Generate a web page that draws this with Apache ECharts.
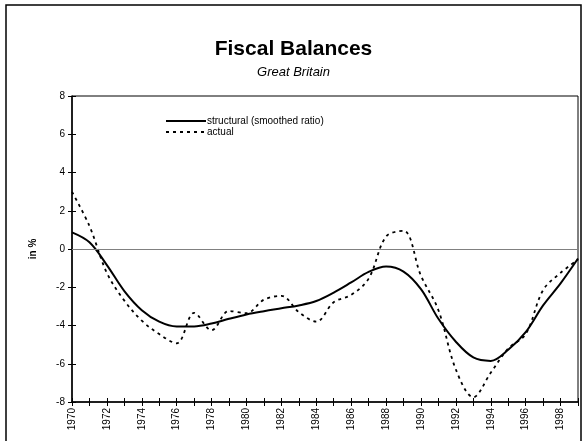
<!DOCTYPE html>
<html><head><meta charset="utf-8">
<script src="https://cdn.jsdelivr.net/npm/echarts@6/dist/echarts.min.js"></script>
<style>html,body{margin:0;padding:0;background:#fff}#c{width:587px;height:441px}</style>
</head><body><div id="c"></div>
<script>
var years = [1970,1971,1972,1973,1974,1975,1976,1977,1978,1979,1980,1981,1982,1983,1984,1985,1986,1987,1988,1989,1990,1991,1992,1993,1994,1995,1996,1997,1998,1999];
var structural = [0.87,0.35,-0.84,-2.2,-3.2,-3.8,-4.05,-4.05,-3.9,-3.65,-3.42,-3.25,-3.1,-2.95,-2.72,-2.28,-1.75,-1.2,-0.92,-1.18,-2.1,-3.65,-4.85,-5.67,-5.85,-5.27,-4.35,-2.95,-1.8,-0.5];
var actual = [2.99,1.2,-1.25,-2.7,-3.75,-4.45,-4.93,-3.34,-4.25,-3.24,-3.36,-2.65,-2.45,-3.3,-3.8,-2.78,-2.4,-1.55,0.65,0.95,-1.4,-3.2,-6.3,-7.75,-6.47,-5.2,-4.45,-2.15,-1.25,-0.55];
var yTicks = [-8,-6,-4,-2,0,2,4,6,8];

function pairs(v){ return years.map(function(y,i){ return [y, v[i]]; }); }

var chart = echarts.init(document.getElementById('c'), null, {renderer:'canvas'});
var F = 'Liberation Sans, Arial, sans-serif';
var gTop = 96, gLeft = 72, gRight = 9, gBottom = 39;
var gH = 441 - gTop - gBottom, gW = 587 - gLeft - gRight;
chart.setOption({
  animation: false,
  backgroundColor: '#fff',
  title: {
    text: 'Fiscal Balances', subtext: 'Great Britain', left: 'center', top: 34, itemGap: 6,
    textStyle: {fontFamily: F, fontSize: 21, fontWeight: 'bold', color: '#000'},
    subtextStyle: {fontFamily: F, fontSize: 13, fontStyle: 'italic', color: '#000'}
  },
  grid: {left: gLeft, top: gTop, right: gRight, bottom: gBottom, show: true, borderColor: '#000', borderWidth: 1, backgroundColor: 'transparent'},
  xAxis: [{
    type: 'value', min: 1970, max: 1999, interval: 1, position: 'bottom',
    axisLine: {onZero: false, lineStyle: {color: '#000', width: 1.5}},
    axisTick: {length: 4, lineStyle: {color: '#000'}},
    splitLine: {show: false},
    axisLabel: {rotate: 90, margin: 6, fontFamily: F, fontSize: 10, color: '#000',
      formatter: function(v){ return (v % 2 === 0 && v < 1999) ? String(v) : ''; }}
  },{
    type: 'value', min: 1970, max: 1999, interval: 1, position: 'top', offset: -gH,
    axisLine: {show: false}, axisTick: {length: 4, lineStyle: {color: '#000'}},
    splitLine: {show: false}, axisLabel: {show: false}
  }],
  yAxis: [{
    type: 'value', min: -8, max: 8, interval: 2, position: 'left',
    name: 'in %', nameLocation: 'middle', nameGap: 34, nameRotate: 90,
    nameTextStyle: {fontFamily: F, fontSize: 10, fontWeight: 'bold', color: '#000'},
    axisLine: {show: true, onZero: false, lineStyle: {color: '#000', width: 1.5}},
    axisTick: {show: true, length: 4, lineStyle: {color: '#000'}},
    splitLine: {show: false},
    axisLabel: {margin: 7, fontFamily: F, fontSize: 10, color: '#000',
      formatter: function(v){ return yTicks.indexOf(v) >= 0 ? String(v) : ''; }}
  },{
    type: 'value', min: -8, max: 8, interval: 2, position: 'right', offset: -gW,
    axisLine: {show: false}, axisTick: {show: true, length: 4, lineStyle: {color: '#000'}},
    splitLine: {show: false}, axisLabel: {show: false}
  }],
  series: [{
    name: 'structural (smoothed ratio)', type: 'line', data: pairs(structural),
    smooth: 0.35, symbol: 'none', lineStyle: {color: '#000', width: 2}, z: 3,
    markLine: {silent: true, symbol: 'none', label: {show: false},
      lineStyle: {color: '#808080', width: 1.2, type: 'solid'}, data: [{yAxis: 0}]}
  },{
    name: 'actual', type: 'line', data: pairs(actual),
    smooth: 0.35, symbol: 'none', lineStyle: {color: '#000', width: 1.8, type: [3, 4]}, z: 2
  }],
  graphic: [
    {type: 'rect', shape: {x: 6, y: 5, width: 575, height: 445}, style: {fill: 'none', stroke: '#000', lineWidth: 1.5}, z: 100},
    {type: 'line', shape: {x1: 166, y1: 121, x2: 206, y2: 121}, style: {stroke: '#000', lineWidth: 2}},
    {type: 'line', shape: {x1: 166, y1: 132, x2: 206, y2: 132}, style: {stroke: '#000', lineWidth: 1.8, lineDash: [3, 4]}},
    {type: 'text', x: 207, y: 121, style: {text: 'structural (smoothed ratio)', font: '10px ' + F, fill: '#000', textVerticalAlign: 'middle'}},
    {type: 'text', x: 207, y: 132, style: {text: 'actual', font: '10px ' + F, fill: '#000', textVerticalAlign: 'middle'}}
  ]
});
</script></body></html>
